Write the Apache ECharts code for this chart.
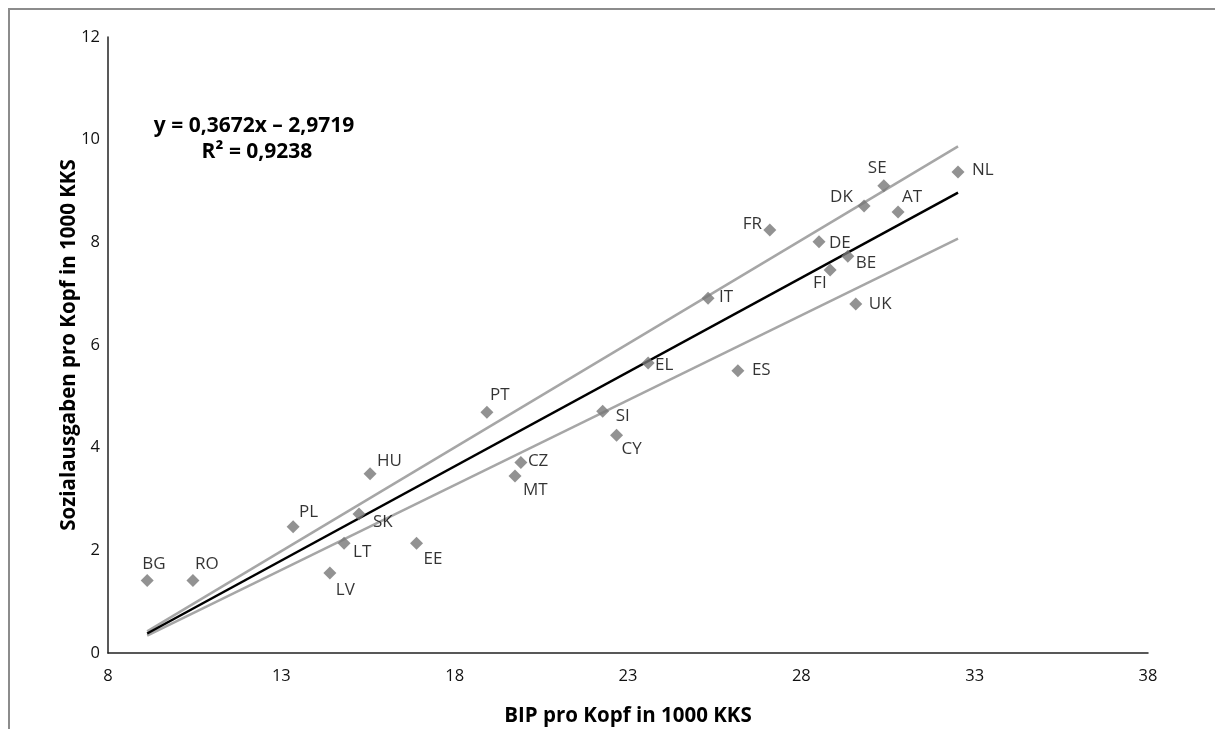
<!DOCTYPE html>
<html>
<head>
<meta charset="utf-8">
<script src="https://cdn.jsdelivr.net/npm/echarts@6/dist/echarts.min.js"></script>
<style>
	html, body { margin: 0; padding: 0; background: #fff; }
	#chart { width: 1215px; height: 729px; }
</style>
</head>
<body>
<div id="chart"></div>
<script>
	// Länder, BIP pro Kopf und Sozialausgaben pro Kopf (1000 KKS)
	const countries = ["BG", "RO", "PL", "HU", "SK", "LT", "LV", "EE", "PT", "CZ", "MT", "SI", "CY", "EL", "ES", "IT", "FR", "DE", "FI", "BE", "DK", "SE", "AT", "NL", "UK"];
	const bip = [9.13, 10.45, 13.34, 15.56, 15.24, 14.81, 14.40, 16.90, 18.93, 19.91, 19.74, 22.27, 22.67, 23.58, 26.17, 25.31, 27.09, 28.51, 28.83, 29.34, 29.81, 30.38, 30.79, 32.52, 29.57];
	const sozial = [1.41, 1.41, 2.46, 3.49, 2.71, 2.14, 1.56, 2.14, 4.69, 3.71, 3.45, 4.71, 4.24, 5.65, 5.50, 6.91, 8.24, 8.01, 7.46, 7.73, 8.71, 9.10, 8.59, 9.37, 6.80];

	// Trendlinie und ±10 %-Linien (Endpunkte)
	const lineX = [9.13, 32.52];
	const trendY = [0.38, 8.97];
	const upperY = [0.42, 9.87];
	const lowerY = [0.34, 8.07];

	const equationLines = ["y = 0,3672x \u2013 2,9719", "R\u00b2 = 0,9238"];

	// Lage der Beschriftung relativ zum Punkt [dx, dy] in px
	const labelOffsets = {
		BG: [-5, -16], RO: [2, -16], PL: [6, -15], HU: [7, -13], SK: [14, 8],
		LT: [9, 9], LV: [6, 17], EE: [7, 16], PT: [3, -17], CZ: [7, -1],
		MT: [8, 14], SI: [13, 5], CY: [5, 14], EL: [7, 2], ES: [14, -1],
		IT: [11, -1], FR: [-27, -6], DE: [10, 1], FI: [-17, 13], BE: [8, 7],
		DK: [-34, -9], SE: [-16, -18], AT: [4, -15], NL: [14, -2], UK: [13, 0]
	};

	const SYMBOL = 13;
	const FONT = "'Open Sans', 'Noto Sans', sans-serif";

	const points = countries.map((c, i) => {
		const off = labelOffsets[c] || [8, 0];
		return {
			name: c,
			value: [bip[i], sozial[i]],
			label: { position: [off[0] + SYMBOL / 2, off[1] + SYMBOL / 2] }
		};
	});

	function linePoints(ys) {
		return lineX.map((x, i) => [x, ys[i]]);
	}

	const chart = echarts.init(document.getElementById("chart"));
	chart.setOption({
		animation: false,
		grid: { left: 108, right: 67, top: 37, bottom: 76, outerBoundsMode: "none" },
		xAxis: {
			type: "value",
			min: 8, max: 38, interval: 5,
			name: "BIP pro Kopf in 1000 KKS",
			nameLocation: "middle",
			nameGap: 53,
			nameMoveOverlap: false,
			nameTextStyle: { fontFamily: FONT, fontSize: 20.5, fontWeight: "bold", color: "#000" },
			axisLine: { show: true, lineStyle: { color: "#222", width: 1.5 } },
			axisTick: { show: false },
			splitLine: { show: false },
			axisLabel: { fontFamily: FONT, fontSize: 16.5, color: "#111", margin: 15 }
		},
		yAxis: {
			type: "value",
			min: 0, max: 12, interval: 2,
			name: "Sozialausgaben pro Kopf in 1000 KKS",
			nameLocation: "middle",
			nameGap: 28,
			nameMoveOverlap: false,
			nameTextStyle: { fontFamily: FONT, fontSize: 20.5, fontWeight: "bold", color: "#000" },
			axisLine: { show: true, lineStyle: { color: "#222", width: 1.5 } },
			axisTick: { show: false },
			splitLine: { show: false },
			axisLabel: { fontFamily: FONT, fontSize: 16.5, color: "#111", margin: 8 }
		},
		graphic: [
			{
				type: "polyline",
				shape: { points: [[9, 729], [9, 9], [1215, 9]] },
				style: { stroke: "#8c8c8c", lineWidth: 2, fill: null },
				silent: true
			},
			{
				type: "text",
				x: 254, y: 126,
				style: {
					text: equationLines[0],
					textAlign: "center", textVerticalAlign: "middle",
					fontFamily: FONT, fontSize: 21, fontWeight: "bold", fill: "#000"
				}
			},
			{
				type: "text",
				x: 257, y: 152,
				style: {
					text: equationLines[1],
					textAlign: "center", textVerticalAlign: "middle",
					fontFamily: FONT, fontSize: 21, fontWeight: "bold", fill: "#000"
				}
			}
		],
		series: [
			{
				type: "line", data: linePoints(upperY), symbol: "none",
				lineStyle: { color: "#a6a6a6", width: 2.5 }, z: 1
			},
			{
				type: "line", data: linePoints(lowerY), symbol: "none",
				lineStyle: { color: "#a6a6a6", width: 2.5 }, z: 1
			},
			{
				type: "line", data: linePoints(trendY), symbol: "none",
				lineStyle: { color: "#000", width: 2.5 }, z: 2
			},
			{
				type: "scatter",
				data: points,
				symbol: "diamond",
				symbolSize: SYMBOL,
				itemStyle: { color: "#777" },
				label: {
					show: true,
					formatter: "{b}",
					align: "left",
					verticalAlign: "middle",
					fontFamily: FONT, fontSize: 17, color: "#000"
				},
				z: 3
			}
		]
	});
</script>
</body>
</html>
